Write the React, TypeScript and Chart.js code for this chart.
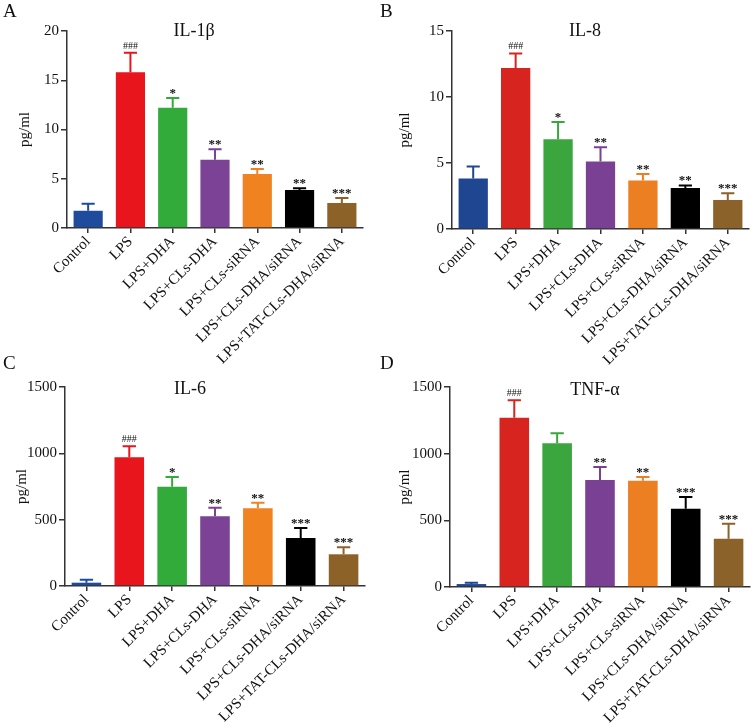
import React, { useEffect, useRef } from "react";
import { Chart, registerables } from "chart.js";
Chart.register(...registerables);

const categories = [
  "Control",
  "LPS",
  "LPS+DHA",
  "LPS+CLs-DHA",
  "LPS+CLs-siRNA",
  "LPS+CLs-DHA/siRNA",
  "LPS+TAT-CLs-DHA/siRNA",
];

// IL-1β
const il1bMeans = [1.75, 15.8, 12.2, 6.93, 5.48, 3.86, 2.54];
const il1bSD = [0.72, 2.0, 1.0, 1.07, 0.52, 0.17, 0.51];
const il1bMarks = ["", "###", "*", "**", "**", "**", "***"];
const il1bTicks = [0, 5, 10, 15, 20];

// IL-8
const il8Means = [3.83, 12.2, 6.8, 5.12, 3.68, 3.1, 2.2];
const il8SD = [0.91, 1.1, 1.3, 1.08, 0.49, 0.2, 0.5];
const il8Marks = ["", "###", "*", "**", "**", "**", "***"];
const il8Ticks = [0, 5, 10, 15];

// IL-6
const il6Means = [25, 970, 748, 525, 586, 362, 239];
const il6SD = [23, 83, 73, 65, 42, 75, 53];
const il6Marks = ["", "###", "*", "**", "**", "***", "***"];
const il6Ticks = [0, 500, 1000, 1500];

// TNF-α
const tnfMeans = [22, 1270, 1078, 803, 797, 587, 362];
const tnfSD = [10, 130, 75, 97, 28, 88, 113];
const tnfMarks = ["", "###", "", "**", "**", "***", "***"];
const tnfTicks = [0, 500, 1000, 1500];

const colorsA = ["#1f4b9c", "#e8151d", "#33ab3b", "#7b4296", "#f0821f", "#000000", "#8d6229"];
const colorsB = ["#1f4690", "#d8241f", "#3aa63d", "#794093", "#ec7f22", "#000000", "#8b6229"];

const SERIF = '"Liberation Serif", "Times New Roman", serif';

type Panel = {
  left: number; top: number; width: number; height: number;
  plotL: number; plotT: number; plotR: number; plotB: number;
  title: string; titleX: number; titleY: number;
  letter: string; letterX: number; letterY: number;
  yTitleX: number;
  means: number[]; sds: number[]; marks: string[]; ticks: number[];
  colors: string[];
};

const panels: Panel[] = [
  { left: 0, top: 0, width: 376, height: 374, plotL: 67, plotT: 31, plotR: 363, plotB: 228,
    title: "IL-1β", titleX: 194, titleY: 31, letter: "A", letterX: 3, letterY: 17, yTitleX: 25,
    means: il1bMeans, sds: il1bSD, marks: il1bMarks, ticks: il1bTicks, colors: colorsA },
  { left: 376, top: 0, width: 377, height: 374, plotL: 76, plotT: 31, plotR: 373, plotB: 229,
    title: "IL-8", titleX: 209, titleY: 31, letter: "B", letterX: 4, letterY: 17, yTitleX: 29,
    means: il8Means, sds: il8SD, marks: il8Marks, ticks: il8Ticks, colors: colorsB },
  { left: 0, top: 340, width: 376, height: 383, plotL: 65, plotT: 47, plotR: 365, plotB: 246,
    title: "IL-6", titleX: 190, titleY: 49, letter: "C", letterX: 3, letterY: 29, yTitleX: 22,
    means: il6Means, sds: il6SD, marks: il6Marks, ticks: il6Ticks, colors: colorsA },
  { left: 376, top: 340, width: 377, height: 383, plotL: 74, plotT: 47, plotR: 374, plotB: 247,
    title: "TNF-α", titleX: 219, titleY: 50, letter: "D", letterX: 4, letterY: 29, yTitleX: 29,
    means: tnfMeans, sds: tnfSD, marks: tnfMarks, ticks: tnfTicks, colors: colorsB },
];

function PanelChart({ p }: { p: Panel }) {
  const ref = useRef<HTMLCanvasElement | null>(null);
  useEffect(() => {
    if (!ref.current) return;
    const decor = {
      id: "decor",
      afterDatasetsDraw(chart: any) {
        const ctx = chart.ctx;
        const meta = chart.getDatasetMeta(0);
        const y = chart.scales.y;
        ctx.save();
        meta.data.forEach((bar: any, i: number) => {
          const top = y.getPixelForValue(p.means[i]);
          const errTop = y.getPixelForValue(p.means[i] + p.sds[i]);
          const cap = bar.width * 0.45;
          ctx.strokeStyle = p.colors[i];
          ctx.lineWidth = 2;
          ctx.beginPath();
          ctx.moveTo(bar.x, top);
          ctx.lineTo(bar.x, errTop);
          ctx.moveTo(bar.x - cap / 2, errTop);
          ctx.lineTo(bar.x + cap / 2, errTop);
          ctx.stroke();
          const m = p.marks[i];
          if (m) {
            ctx.fillStyle = "#111";
            ctx.textAlign = "center";
            ctx.textBaseline = "alphabetic";
            if (m.startsWith("#")) {
              ctx.font = `10px ${SERIF}`;
              ctx.fillText(m, bar.x, errTop - 4);
            } else {
              ctx.font = `bold 13px ${SERIF}`;
              ctx.fillText(m, bar.x, errTop - 1);
            }
          }
        });
        ctx.restore();
      },
      afterDraw(chart: any) {
        const ctx = chart.ctx;
        ctx.save();
        ctx.fillStyle = "#111";
        ctx.textAlign = "center";
        ctx.textBaseline = "middle";
        ctx.font = `18px ${SERIF}`;
        ctx.fillText(p.title, p.titleX, p.titleY);
        ctx.textAlign = "left";
        ctx.textBaseline = "alphabetic";
        ctx.font = `19px ${SERIF}`;
        ctx.fillText(p.letter, p.letterX, p.letterY);
        const area = chart.chartArea;
        ctx.translate(p.yTitleX, (area.top + area.bottom) / 2);
        ctx.rotate(-Math.PI / 2);
        ctx.textAlign = "center";
        ctx.textBaseline = "middle";
        ctx.font = `15px ${SERIF}`;
        ctx.fillText("pg/ml", 0, 0);
        ctx.restore();
      },
    };
    const axisColor = "#333";
    const chart = new Chart(ref.current, {
      type: "bar",
      data: {
        labels: categories,
        datasets: [
          {
            data: p.means,
            backgroundColor: p.colors,
            borderWidth: 0,
            categoryPercentage: 1,
            barPercentage: 0.69,
          },
        ],
      },
      options: {
        animation: false,
        responsive: false,
        maintainAspectRatio: false,
        devicePixelRatio: 1,
        layout: { padding: { top: p.plotT, right: p.width - p.plotR, left: 0, bottom: 0 } },
        plugins: { legend: { display: false }, tooltip: { enabled: false }, title: { display: false } },
        scales: {
          x: {
            offset: true,
            grid: { display: true, drawOnChartArea: false, drawTicks: true, tickLength: 5, offset: false, color: axisColor, lineWidth: 1.5 },
            border: { display: true, color: axisColor, width: 1.5 },
            ticks: {
              autoSkip: false, minRotation: 45, maxRotation: 45, color: "#111", padding: 0,
              font: { family: SERIF, size: 15 },
            },
            afterFit(scale: any) { scale.height = p.height - p.plotB; },
          },
          y: {
            min: p.ticks[0],
            max: p.ticks[p.ticks.length - 1],
            afterBuildTicks(scale: any) { scale.ticks = p.ticks.map((v) => ({ value: v })); },
            grid: { display: true, drawOnChartArea: false, drawTicks: true, tickLength: 6, color: axisColor, lineWidth: 1.5 },
            border: { display: true, color: axisColor, width: 1.5 },
            ticks: {
              color: "#111", padding: 2, font: { family: SERIF, size: 15 },
              callback: (v: any) => String(v),
            },
            afterFit(scale: any) { scale.width = p.plotL; },
          },
        },
      },
      plugins: [decor],
    });
    return () => chart.destroy();
  }, [p]);
  return (
    <canvas
      ref={ref}
      width={p.width}
      height={p.height}
      style={{ position: "absolute", left: p.left, top: p.top, width: p.width, height: p.height }}
    />
  );
}

export default function App() {
  return (
    <div style={{ position: "absolute", left: 0, top: 0, width: 753, height: 723, background: "#fff" }}>
      {panels.map((p) => (
        <PanelChart key={p.letter} p={p} />
      ))}
    </div>
  );
}
